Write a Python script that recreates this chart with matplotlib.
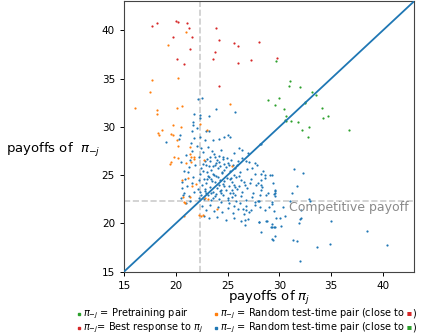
import numpy as np
import matplotlib
matplotlib.use("Agg")
from matplotlib import pyplot as plt
from matplotlib.lines import Line2D

# colours
BLUE = "#1f77b4"
ORANGE = "#ff7f0e"
GREEN = "#2ca02c"
RED = "#d62728"

competitive = 22.3

# pi_-j = best response to pi_j
red_x = [17.67, 18.15, 19.98, 20.17, 21.04, 21.27, 19.76, 21.59, 23.9, 24.16, 25.6,
         26.0, 28.0, 21.36, 23.74, 23.64, 20.1, 20.75, 26.03, 27.3, 29.78, 24.22]
red_y = [40.48, 40.76, 40.97, 40.86, 40.73, 40.24, 39.34, 39.31, 40.24, 39.0, 38.69,
         38.38, 38.79, 38.1, 37.72, 37.03, 37.03, 36.55, 36.6, 36.9, 37.17, 34.27]

# pi_-j = pretraining pair
green_x = [29.69, 28.88, 29.97, 29.6, 31.07, 30.94, 31.97, 33.18, 33.57, 32.5, 32.45,
           30.46, 30.62, 30.55, 30.65, 31.1, 31.84, 34.09, 34.22, 34.67, 32.9, 32.19,
           36.72, 32.74]
green_y = [36.79, 32.82, 32.96, 32.23, 34.72, 34.27, 34.13, 33.61, 33.27, 32.58, 32.5,
           31.82, 31.16, 30.68, 30.6, 30.6, 30.47, 31.99, 30.95, 31.09, 30.0, 29.64,
           29.71, 28.92]

# pi_-j = random test-time pair (close to red)
orange_x = [20.94, 19.21, 17.73, 20.2, 17.5, 16.06, 18.18, 18.18, 20.1, 20.59, 25.19,
            19.72, 20.52, 18.63, 18.28, 18.41, 19.5, 19.72, 23.0, 22.36, 20.08, 20.2,
            21.42, 19.8, 19.5, 19.4, 20.17, 21.36, 21.49, 21.78, 21.46, 20.94, 21.78,
            22.7, 25.4, 20.56, 21.17, 21.97, 20.69, 20.79, 20.91, 22.78, 23.13, 23.97,
            20.75, 22.23, 22.45, 22.6, 21.6, 21.4]
orange_y = [39.79, 38.45, 34.85, 35.06, 33.61, 31.99, 31.78, 31.33, 31.99, 32.16, 32.37,
            30.23, 30.02, 29.68, 29.33, 29.12, 29.26, 29.12, 29.64, 30.26, 28.64, 28.02,
            27.95, 26.91, 26.36, 26.15, 26.74, 27.15, 26.91, 26.84, 26.4, 26.22, 26.64,
            26.6, 25.95, 24.5, 24.67, 24.08, 22.7, 22.25, 22.15, 22.6, 22.53, 21.5,
            20.8, 20.87, 20.8, 20.83, 23.87, 22.7]

# pi_-j = random test-time pair (close to green)
blue_x = [
    # sparse upper part
    22.17, 22.55, 23.84, 25.7, 21.78, 22.33, 22.3, 23.2, 21.7, 21.7, 22.0, 21.6, 22.33,
    22.9, 23.16, 24.67, 25.0, 20.4, 20.34, 19.05, 21.78, 21.49, 22.8, 23.6, 24.2, 25.2,
    26.1, 28.1, 28.25,
    # sparse right part
    31.45, 32.3, 31.7, 31.2, 32.9, 32.93, 31.0, 32.1, 32.0, 35.02, 31.94, 30.5, 29.7,
    29.45, 29.49, 29.6, 30.04, 30.2, 29.6, 29.27, 29.17, 28.76, 28.0, 28.27, 29.6, 29.27,
    29.34, 31.29, 31.74, 33.6, 34.86, 38.43, 40.42, 31.97, 26.64, 26.67, 26.98, 30.36,
    29.27, 29.33, 29.55, 29.6, 29.55, 28.27, 28.59, 29.14, 26.76, 27.69, 27.4, 28.2,
    28.37, 28.17, 28.69, 27.63, 27.95, 28.1, 28.59, 29.0, 26.5, 26.82, 27.08, 28.04,
    28.75, 29.33, 29.49, 32.06,
    # dense cloud
    22.6, 23.1, 23.7, 24.4, 24.9, 25.6, 22.2, 22.8, 23.3, 23.9, 24.2, 24.7, 25.3, 25.9,
    26.4, 27.1, 21.4, 21.9, 22.4, 22.9, 23.4, 23.6, 24.1, 24.5, 24.8, 25.2, 25.7, 26.2,
    26.9, 27.6, 28.4, 21.2, 21.7, 22.3, 22.7, 23.0, 23.2, 23.5, 23.9, 24.3, 24.6, 24.9,
    25.4, 25.8, 26.3, 26.7, 27.3, 27.9, 28.6, 20.6, 21.1, 21.6, 22.1, 22.5, 22.8, 23.3,
    23.6, 24.0, 24.4, 24.8, 25.1, 25.5, 25.9, 26.4, 26.9, 27.5, 28.2, 20.8, 21.3, 21.8,
    22.4, 22.7, 23.1, 23.4, 23.8, 24.2, 24.6, 25.0, 25.4, 25.8, 26.3, 26.8, 27.4, 28.0,
    20.5, 21.0, 22.5, 22.9, 23.3, 23.7, 24.1, 24.5, 25.0, 25.5, 26.0, 26.6, 27.3, 22.7,
    23.2, 24.0, 24.8, 25.6, 26.3,
    22.4, 23.0, 23.5, 24.0, 24.6, 25.0, 25.5, 26.0, 22.6, 23.2, 23.8, 24.3, 24.7, 25.1,
    25.6, 26.1, 22.2, 22.9, 23.4, 23.8, 24.2, 24.7, 25.2, 25.6, 26.1, 22.3, 22.9, 23.4,
    23.9, 24.3, 24.7, 25.2, 25.7, 22.2, 23.6, 24.4, 25.1, 25.6, 26.2, 26.8, 27.6, 21.4,
    20.7, 20.6, 20.9, 21.3, 20.8, 20.5, 21.0, 21.6, 22.0, 27.8, 28.2, 28.9, 29.4, 29.3,
    27.0, 26.4,
    23.15, 23.55, 24.05, 24.45, 23.35, 23.75, 24.15, 24.55, 22.65, 23.05, 25.35, 25.75,
    22.85, 23.65, 24.35, 25.05, 25.45, 26.55, 27.15, 27.75,
]
blue_y = [
    32.92, 32.96, 31.82, 31.5, 31.37, 31.23, 30.95, 31.1, 30.5, 30.2, 29.85, 29.57, 28.98,
    29.6, 29.57, 28.98, 29.2, 29.12, 28.74, 28.4, 28.85, 28.3, 28.64, 28.64, 28.7, 28.9,
    27.78, 28.2, 28.25,
    25.67, 25.2, 23.9, 23.2, 22.53, 22.32, 22.3, 21.35, 20.5, 20.25, 20.07, 20.77, 20.52,
    21.25, 23.01, 23.4, 20.6, 19.76, 19.6, 19.6, 19.66, 20.28, 20.11, 19.07, 18.66, 18.42,
    18.28, 18.25, 18.18, 17.52, 17.83, 19.25, 17.73, 16.1, 20.35, 19.83, 20.42, 21.74,
    22.22, 21.98, 23.46, 23.1, 22.84, 25.12, 25.02, 25.02, 26.5, 26.29, 25.78, 24.5,
    23.8, 22.98, 22.98, 22.25, 22.32, 21.67, 21.39, 21.67, 21.46, 21.39, 21.22, 20.18,
    20.29, 19.94, 19.66, 20.6,
    27.4, 27.9, 27.2, 27.6, 26.8, 27.3, 26.9, 26.5, 26.9, 26.3, 27.0, 26.2, 26.6, 26.1,
    26.8, 26.4, 26.6, 26.0, 25.7, 26.1, 25.5, 25.9, 25.7, 25.2, 25.8, 25.4, 25.7, 25.3,
    25.6, 25.1, 25.4, 25.3, 24.8, 25.1, 24.6, 25.3, 24.8, 24.4, 24.9, 24.5, 24.1, 24.7,
    24.3, 24.8, 24.5, 24.0, 24.6, 24.2, 24.7, 24.3, 23.9, 24.2, 23.6, 24.0, 23.4, 23.8,
    23.3, 23.7, 23.1, 23.5, 23.9, 23.2, 23.6, 23.3, 23.7, 23.2, 23.5, 23.2, 22.8, 23.3,
    22.9, 22.5, 22.9, 22.4, 22.8, 22.5, 22.9, 22.4, 22.7, 22.3, 22.8, 22.4, 22.7, 22.3,
    22.6, 22.1, 21.8, 21.4, 21.9, 21.3, 21.7, 21.2, 21.6, 21.1, 21.5, 21.0, 21.4, 20.8,
    20.6, 20.7, 20.4, 20.6, 20.3,
    27.8, 26.7, 27.5, 26.6, 26.9, 26.3, 26.0, 26.5, 26.2, 25.9, 26.0, 25.9, 25.5, 26.0,
    25.0, 24.9, 24.5, 24.2, 24.6, 24.3, 24.0, 24.4, 24.6, 24.0, 23.9, 23.3, 23.1, 23.2,
    23.0, 23.4, 23.9, 23.1, 22.9, 22.6, 22.6, 22.2, 22.1, 21.8, 22.1, 21.8, 21.9, 22.3,
    22.9, 23.7, 24.6, 25.8, 25.4, 26.4, 27.1, 27.5, 28.0, 26.0, 24.0, 23.1, 24.2, 25.0,
    27.3, 27.6,
    24.95, 25.15, 24.85, 25.35, 26.45, 26.85, 26.35, 26.65, 25.45, 24.55, 24.75, 23.75,
    23.55, 25.05, 23.45, 22.65, 23.45, 24.25, 24.15, 23.95,
]

ticks = [15, 20, 25, 30, 35, 40]

fig = plt.figure(figsize=(4.31, 3.36), dpi=100)
ax = fig.add_axes([0.2877, 0.1914, 0.6729, 0.8046])

ax.axvline(competitive, color="#cccccc", ls="--", lw=1.2, zorder=1)
ax.axhline(competitive, color="#cccccc", ls="--", lw=1.2, zorder=1)

ax.scatter(blue_x, blue_y, s=2.5, color=BLUE, linewidths=0, zorder=2)
ax.scatter(orange_x, orange_y, s=2.5, color=ORANGE, linewidths=0, zorder=2)
ax.scatter(red_x, red_y, s=2.5, color=RED, linewidths=0, zorder=2)
ax.scatter(green_x, green_y, s=2.5, color=GREEN, linewidths=0, zorder=2)

ax.plot([15, 43], [15, 43], color=BLUE, lw=1.3, zorder=3)

ax.text(30.9, 21.6, "Competitive payoff", color="#8a8a8a", fontsize=9,
        va="center", ha="left", zorder=4)

ax.set_xlim(15, 43)
ax.set_ylim(15, 43)
ax.set_xticks(ticks)
ax.set_yticks(ticks)
ax.tick_params(labelsize=7.5, length=3, width=0.7)
for s in ax.spines.values():
    s.set_linewidth(0.8)
    s.set_color("#444444")

ax.set_xlabel(r"payoffs of $\pi_j$", fontsize=9.5, labelpad=-1)
ax.set_ylabel(r"payoffs of  $\pi_{-j}$", fontsize=9.5, rotation=0, ha="right", va="center")
ax.yaxis.set_label_coords(-0.08, 0.45)

# legend (built by hand, two columns)
rows = [0.066, 0.024]
cols = [(0.183, 0.193), (0.501, 0.510)]
fs = 7
entries = [
    (0, 0, GREEN, r"$\pi_{-j}$ = Pretraining pair", None),
    (1, 0, RED, r"$\pi_{-j}$= Best response to $\pi_j$", None),
    (0, 1, ORANGE, r"$\pi_{-j}$ = Random test-time pair (close to", RED),
    (1, 1, BLUE, r"$\pi_{-j}$ = Random test-time pair (close to", GREEN),
]
for r, c, col, lab, dot in entries:
    mx, tx = cols[c]
    y = rows[r]
    fig.add_artist(Line2D([mx], [y], marker="s", ms=1.6, color=col, lw=0,
                          transform=fig.transFigure))
    t = fig.text(tx, y, lab, fontsize=fs, va="center", ha="left")
    if dot is not None:
        d2 = ax.annotate(" \u25aa", xy=(1, 0.5), xycoords=t, va="center", ha="left",
                         color=dot, fontsize=fs - 1, annotation_clip=False)
        ax.annotate(")", xy=(1, 0.5), xycoords=d2, va="center", ha="left",
                    fontsize=fs, annotation_clip=False)

fig.savefig("out.png", dpi=100)
